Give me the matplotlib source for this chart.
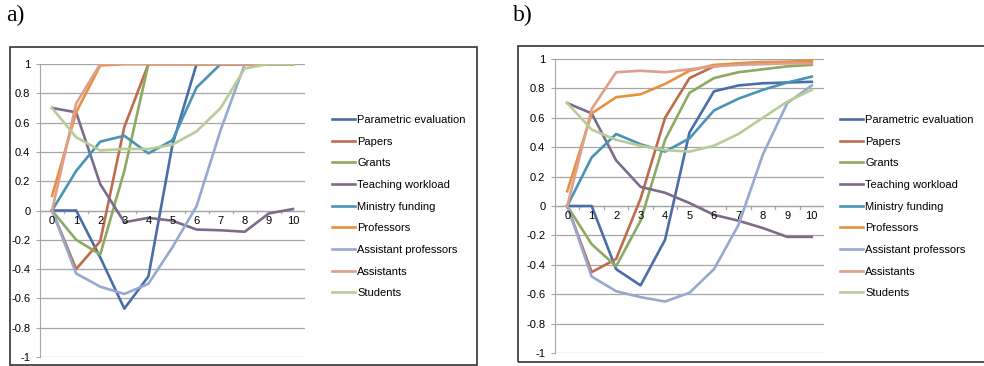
import numpy as np
import matplotlib
matplotlib.use("Agg")
import matplotlib.pyplot as plt
from matplotlib.patches import Rectangle

# Time steps (x categories)
steps = list(range(11))

series_names = ["Parametric evaluation", "Papers", "Grants", "Teaching workload",
                "Ministry funding", "Professors", "Assistant professors",
                "Assistants", "Students"]

colors = ["#4A6EA8", "#BE6B4E", "#8DAA63", "#7D6B8B", "#4A93B6",
          "#E8913D", "#97A9D0", "#DE9F8C", "#B8CC98"]

# Panel a)
a_parametric = [0, 0, -0.32, -0.67, -0.45, 0.45, 1, 1, 1, 1, 1]
a_papers = [0, -0.40, -0.21, 0.57, 1, 1, 1, 1, 1, 1, 1]
a_grants = [0, -0.20, -0.30, 0.27, 1, 1, 1, 1, 1, 1, 1]
a_teaching = [0.70, 0.67, 0.18, -0.08, -0.05, -0.07, -0.13, -0.135, -0.145, -0.02, 0.01]
a_ministry = [0, 0.27, 0.47, 0.51, 0.39, 0.48, 0.84, 1, 1, 1, 1]
a_professors = [0.10, 0.67, 0.99, 1, 1, 1, 1, 1, 1, 1, 1]
a_asst_prof = [0, -0.43, -0.52, -0.57, -0.50, -0.25, 0.03, 0.55, 1, 1, 1]
a_assistants = [0, 0.73, 1, 1, 1, 1, 1, 1, 1, 1, 1]
a_students = [0.70, 0.50, 0.41, 0.42, 0.42, 0.45, 0.54, 0.70, 0.97, 1, 1]

# Panel b)
b_parametric = [0, 0, -0.43, -0.54, -0.23, 0.50, 0.78, 0.82, 0.835, 0.84, 0.845]
b_papers = [0, -0.45, -0.36, 0.05, 0.60, 0.87, 0.95, 0.97, 0.975, 0.98, 0.98]
b_grants = [0, -0.26, -0.41, -0.10, 0.45, 0.77, 0.87, 0.91, 0.93, 0.95, 0.96]
b_teaching = [0.70, 0.63, 0.31, 0.13, 0.09, 0.02, -0.06, -0.10, -0.15, -0.21, -0.21]
b_ministry = [0, 0.33, 0.49, 0.42, 0.37, 0.46, 0.65, 0.73, 0.79, 0.84, 0.88]
b_professors = [0.10, 0.63, 0.74, 0.76, 0.83, 0.92, 0.96, 0.97, 0.98, 0.98, 0.99]
b_asst_prof = [0, -0.48, -0.58, -0.62, -0.65, -0.59, -0.43, -0.13, 0.35, 0.70, 0.82]
b_assistants = [0, 0.66, 0.91, 0.92, 0.91, 0.93, 0.95, 0.96, 0.965, 0.97, 0.97]
b_students = [0.70, 0.52, 0.45, 0.41, 0.38, 0.37, 0.41, 0.49, 0.60, 0.71, 0.79]

panel_a = [a_parametric, a_papers, a_grants, a_teaching, a_ministry,
           a_professors, a_asst_prof, a_assistants, a_students]
panel_b = [b_parametric, b_papers, b_grants, b_teaching, b_ministry,
           b_professors, b_asst_prof, b_assistants, b_students]

W, H = 984, 366
plt.rcParams["font.family"] = ["Liberation Sans", "DejaVu Sans"]
fig = plt.figure(figsize=(W / 100, H / 100), dpi=100)


def px_axes(x0, x1, ytop, ybot):
    return fig.add_axes([x0 / W, (H - ybot) / H, (x1 - x0) / W, (ybot - ytop) / H])


def draw_panel(ax, data, legend_x, label, label_x, box):
    for vals, name, c in zip(data, series_names, colors):
        ax.plot(steps, vals, color=c, lw=1.9, label=name, solid_joinstyle="round")
    ax.set_xlim(-0.5, 10.5)
    ax.set_ylim(-1, 1)
    ax.set_yticks(np.arange(-1, 1.01, 0.2))
    ax.set_yticklabels(["-1", "-0.8", "-0.6", "-0.4", "-0.2", "0",
                        "0.2", "0.4", "0.6", "0.8", "1"])
    ax.grid(axis="y", color="#A6A6A6", lw=0.9)
    ax.set_axisbelow(True)
    for s in ["top", "right", "bottom"]:
        ax.spines[s].set_visible(False)
    ax.spines["left"].set_color("#A6A6A6")
    ax.tick_params(axis="y", length=3, color="#A6A6A6", labelsize=8, pad=4)
    # category axis crossing at y = 0
    ax.axhline(0, color="#A6A6A6", lw=0.9, zorder=1)
    ax.set_xticks([])
    for i in np.arange(-0.5, 11, 1.0):
        ax.plot([i, i], [0, -0.02], color="#A6A6A6", lw=0.9, zorder=1)
    for i in steps:
        ax.text(i, -0.035, str(i), ha="center", va="top", fontsize=8)
    ax.legend(loc="upper left", bbox_to_anchor=(legend_x / W, (H - 115) / H),
              bbox_transform=fig.transFigure, frameon=False, fontsize=8,
              handlelength=2.1, handletextpad=0.15, labelspacing=1.05,
              borderaxespad=0, borderpad=0)
    fig.text(label_x / W, (H - 15) / H, label, fontsize=17,
             family="Liberation Serif", va="center", ha="left")
    x0, y0, x1, y1 = box
    fig.patches.append(Rectangle((x0 / W, (H - y1) / H), (x1 - x0) / W,
                                 (y1 - y0) / H, transform=fig.transFigure,
                                 fill=False, edgecolor="#333333", lw=1.2))


ax_a = px_axes(40, 305, 64, 357)
draw_panel(ax_a, panel_a, 332, "a)", 6, (10, 47, 477, 365))

ax_b = px_axes(555, 824, 59, 353)
draw_panel(ax_b, panel_b, 840, "b)", 513, (518, 46, 990, 362))

fig.savefig("out.png", dpi=100)
